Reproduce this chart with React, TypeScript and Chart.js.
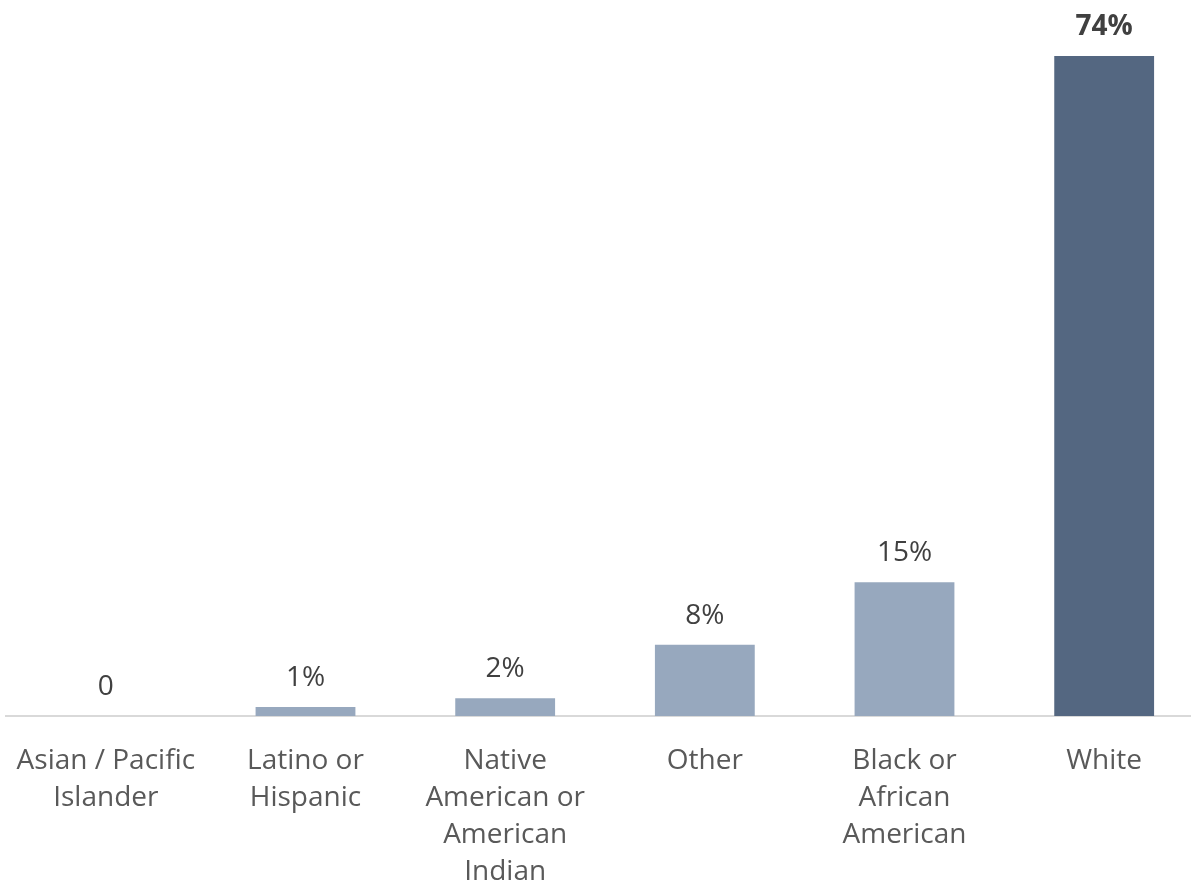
import React, { useEffect, useRef } from "react";
import { Chart, registerables } from "chart.js";

Chart.register(...registerables);

const categories: (string | string[])[] = [
  ["Asian / Pacific", "Islander"],
  ["Latino or", "Hispanic"],
  ["Native", "American or", "American", "Indian"],
  "Other",
  ["Black or", "African", "American"],
  "White",
];
const values: number[] = [0, 1, 2, 8, 15, 74];
const valueLabels: string[] = ["0", "1%", "2%", "8%", "15%", "74%"];
const boldLabel: boolean[] = [false, false, false, false, false, true];
const barColors: string[] = ["#97A8BE", "#97A8BE", "#97A8BE", "#97A8BE", "#97A8BE", "#546781"];

const FONT = "'Open Sans', 'DejaVu Sans', sans-serif";

const labelPlugin = {
  id: "valueLabels",
  afterDatasetsDraw(chart: any) {
    const ctx = chart.ctx;
    const meta = chart.getDatasetMeta(0);
    ctx.save();
    ctx.fillStyle = "#404040";
    ctx.textAlign = "center";
    ctx.textBaseline = "middle";
    meta.data.forEach((bar: any, i: number) => {
      ctx.font = `${boldLabel[i] ? "bold " : ""}28px ${FONT}`;
      ctx.fillText(valueLabels[i], bar.x, bar.y - 29);
    });
    ctx.restore();
  },
};

export default function App() {
  const ref = useRef<HTMLCanvasElement | null>(null);
  useEffect(() => {
    if (!ref.current) return;
    const chart = new Chart(ref.current, {
      type: "bar",
      data: {
        labels: categories,
        datasets: [
          {
            data: values,
            backgroundColor: barColors,
            barPercentage: 0.5,
            categoryPercentage: 1,
          },
        ],
      },
      options: {
        responsive: false,
        animation: false,
        devicePixelRatio: 1,
        layout: { padding: { left: 6, right: 0, top: 56, bottom: 0 } },
        plugins: { legend: { display: false }, tooltip: { enabled: false } },
        scales: {
          x: {
            grid: { display: false },
            border: { display: true, color: "#D9D9D9", width: 2 },
            ticks: {
              color: "#595959",
              padding: 19,
              maxRotation: 0,
              autoSkip: false,
              font: { family: FONT, size: 28, lineHeight: 37 / 28 },
            },
            afterFit: (scale: any) => {
              scale.height = 173;
              scale.paddingLeft = 0;
              scale.paddingRight = 0;
            },
          },
          y: { display: false, min: 0, max: 74 },
        },
      },
      plugins: [labelPlugin],
    });
    return () => chart.destroy();
  }, []);
  return (
    <div style={{ position: "fixed", left: 0, top: 0, width: 1191, height: 889, overflow: "hidden", background: "#fff" }}>
      <canvas ref={ref} width={1204} height={889} style={{ width: 1204, height: 889, display: "block" }} />
    </div>
  );
}
